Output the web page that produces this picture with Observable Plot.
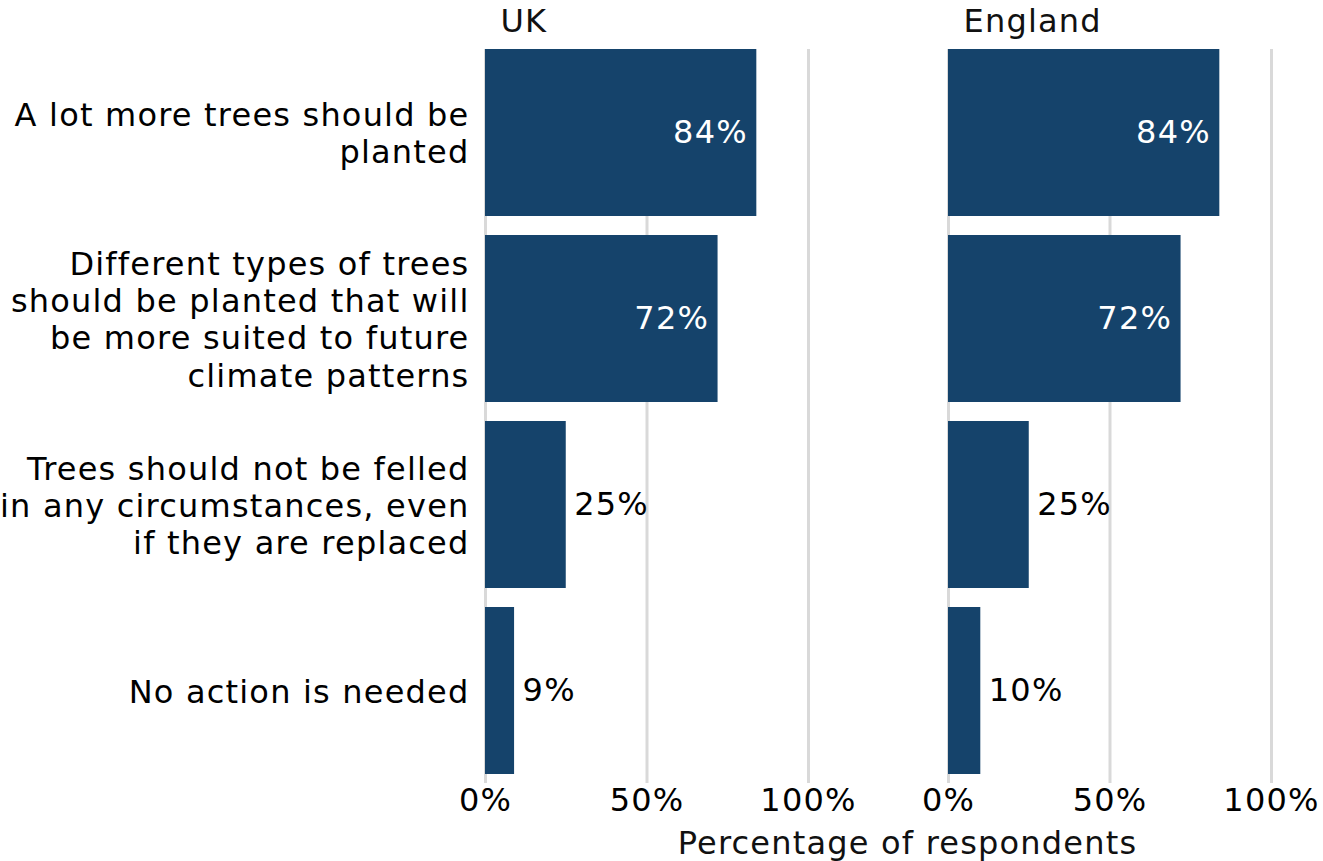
<!DOCTYPE html>
<html>
<head>
<meta charset="utf-8">
<script src="https://cdn.jsdelivr.net/npm/d3@7"></script>
<script src="https://cdn.jsdelivr.net/npm/@observablehq/plot@0.6"></script>
<style>
  html, body { margin: 0; padding: 0; background: white; }
  svg text { letter-spacing: 1.2px; }
</style>
</head>
<body>
<div id="chart"></div>
<script>
const categories = [
  "A lot more trees should be\nplanted",
  "Different types of trees\nshould be planted that will\nbe more suited to future\nclimate patterns",
  "Trees should not be felled\nin any circumstances, even\nif they are replaced",
  "No action is needed"
];
const regions = ["UK", "England"];
const ukValues = [84, 72, 25, 9];
const englandValues = [84, 72, 25, 10];
const xTicks = [0, 50, 100];
const xLabel = "Percentage of respondents";

const data = regions.flatMap((r, i) =>
  categories.map((c, j) => ({region: r, category: c, value: (i === 0 ? ukValues : englandValues)[j]}))
);

const barColor = "#15436b";
const pct = d => d + "%";

const chart = Plot.plot({
  width: 1323,
  height: 861,
  marginLeft: 485,
  marginRight: 51,
  marginTop: 49,
  marginBottom: 78,
  style: {fontFamily: "'DejaVu Sans', Verdana, sans-serif", fontSize: "32px", color: "#000", background: "white", overflow: "visible"},
  fx: {domain: regions, paddingInner: 0.302, paddingOuter: 0, axis: null},
  x: {domain: [0, 100], axis: null},
  y: {domain: categories, paddingInner: 0.1, paddingOuter: 0.023, align: 0, axis: null},
  marks: [
    Plot.gridX(xTicks, {stroke: "#d9d9d9", strokeWidth: 3, strokeOpacity: 1}),
    Plot.barX(data, {fx: "region", y: "category", x: "value", fill: barColor}),
    Plot.text(data.filter(d => d.value >= 50), {fx: "region", y: "category", x: "value", text: d => pct(d.value), textAnchor: "end", dx: -9, fill: "white"}),
    Plot.text(data.filter(d => d.value < 50), {fx: "region", y: "category", x: "value", text: d => pct(d.value), textAnchor: "start", dx: 8, fill: "black"}),
    Plot.axisX(xTicks, {tickSize: 0, tickPadding: 5, tickFormat: pct, label: null, fill: "black"}),
    Plot.axisY({tickSize: 0, tickPadding: 16, label: null, fill: "black", lineHeight: 1.16}),
    Plot.text(regions, {fx: d => d, text: d => d, frameAnchor: "top-left", lineAnchor: "middle", dx: 15, dy: -28, fill: "#111"}),
    Plot.text([xLabel], {facet: "super", text: d => d, frameAnchor: "bottom", lineAnchor: "middle", dx: 29, dy: 60, fill: "#111"})
  ]
});
document.getElementById("chart").appendChild(chart);
</script>
</body>
</html>
